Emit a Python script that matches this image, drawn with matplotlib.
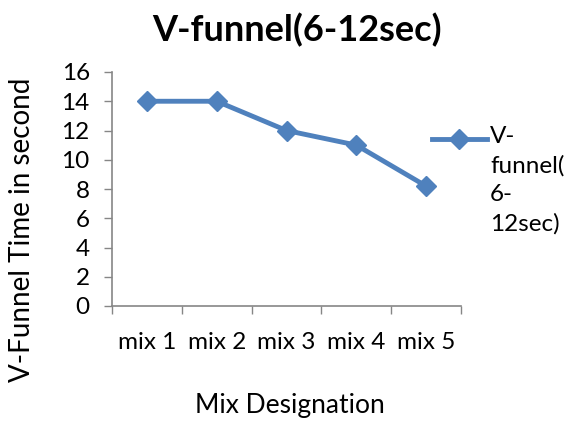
import matplotlib.pyplot as plt
import numpy as np

plt.rcParams['font.family'] = ['Lato', 'DejaVu Sans']

mixes = ['mix 1', 'mix 2', 'mix 3', 'mix 4', 'mix 5']
vfunnel = [14, 14, 12, 11, 8.2]
y_ticks = [0, 2, 4, 6, 8, 10, 12, 14, 16]

blue = '#4f81bd'
grey = '#868686'

fig = plt.figure(figsize=(5.68, 4.21), dpi=100)
ax = fig.add_axes([112/568, 1 - 306/421, (461 - 112)/568, (306 - 72)/421])

x = np.arange(len(mixes))
ax.plot(x, vfunnel, color=blue, lw=3.5, marker='D', ms=10,
        markerfacecolor=blue, markeredgecolor=blue)

ax.set_xlim(-0.5, len(mixes) - 0.5)
ax.set_ylim(0, 16)
ax.set_yticks(y_ticks)
ax.set_xticks(np.arange(len(mixes) + 1) - 0.5)
ax.set_xticklabels([])
ax.set_xticks(x, minor=True)
ax.set_xticklabels(mixes, minor=True, fontsize=17.5)
ax.tick_params(axis='x', which='minor', length=0, pad=19)
ax.tick_params(axis='x', which='major', length=6, color=grey, width=1)
ax.tick_params(axis='y', length=6, color=grey, width=1, labelsize=17.5, pad=10)

for s in ['top', 'right']:
    ax.spines[s].set_visible(False)
for s in ['left', 'bottom']:
    ax.spines[s].set_color(grey)
    ax.spines[s].set_linewidth(1.2)

fig.text(297/568, 1 - 30/421, 'V-funnel(6-12sec)', ha='center', va='center',
         fontsize=26, fontweight='bold')
fig.text(22/568, 1 - 230/421, 'V-Funnel Time in second', ha='center', va='center',
         rotation=90, fontsize=20)
fig.text(290/568, 1 - 405/421, 'Mix Designation', ha='center', va='center', fontsize=19)

# legend drawn by hand in figure coords
fig.add_artist(plt.Line2D([432/568, 487/568], [1 - 139/421, 1 - 139/421], color=blue, lw=3.5))
fig.add_artist(plt.Line2D([459/568], [1 - 139/421], color=blue, marker='D', ms=10))
fig.text(490/568, 1 - 126/421, 'V-\nfunnel(\n6-\n12sec)', ha='left', va='top',
         fontsize=17.5, linespacing=1.45)

fig.savefig('out.png', dpi=100)
